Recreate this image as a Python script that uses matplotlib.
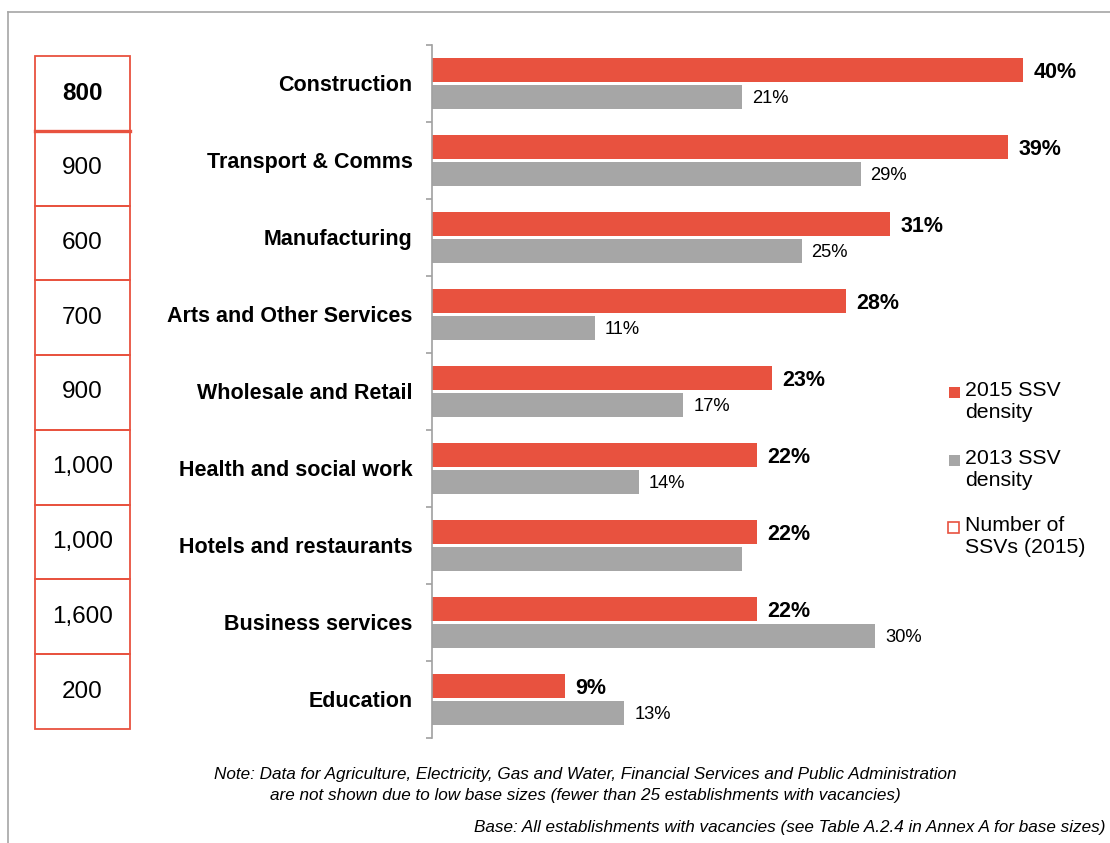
import matplotlib.pyplot as plt
from matplotlib.patches import Rectangle
from matplotlib.lines import Line2D

plt.rcParams['font.family'] = ['Liberation Sans', 'DejaVu Sans']

sectors = ['Construction', 'Transport & Comms', 'Manufacturing',
           'Arts and Other Services', 'Wholesale and Retail',
           'Health and social work', 'Hotels and restaurants',
           'Business services', 'Education']
density_2015 = [40, 39, 31, 28, 23, 22, 22, 22, 9]
density_2013 = [21, 29, 25, 11, 17, 14, 21, 30, 13]
show_2013_label = [True, True, True, True, True, True, False, True, True]
ssv_counts = ['800', '900', '600', '700', '900', '1,000', '1,000', '1,600', '200']

RED = '#E8523F'
GREY = '#A6A6A6'
W, H = 1110, 843


def box(x0, y0, x1, y1):
    # pixel box (top-left origin) -> figure fraction rect
    return [x0 / W, 1 - y1 / H, (x1 - x0) / W, (y1 - y0) / H]


fig = plt.figure(figsize=(W / 100, H / 100), dpi=100)

# outer frame (top and left edges only)
fig.add_artist(Line2D([8 / W, 1], [1 - 12 / H, 1 - 12 / H], color='#A6A6A6', lw=1.2))
fig.add_artist(Line2D([8 / W, 8 / W], [0, 1 - 12 / H], color='#A6A6A6', lw=1.2))

# main bar chart
ax = fig.add_axes(box(432, 44.7, 1110, 737.7))
n = len(sectors)
pos = list(range(n))
h = 0.31
off = 0.175
ax.barh([p - off for p in pos], density_2015, height=h, color=RED, zorder=2)
ax.barh([p + off for p in pos], density_2013, height=h, color=GREY, zorder=2)

ax.set_xlim(0, 678 / 14.78)
ax.set_ylim(n - 0.5, -0.5)
for s in ['top', 'right', 'bottom']:
    ax.spines[s].set_visible(False)
ax.spines['left'].set_color('#A0A0A0')
ax.spines['left'].set_linewidth(1.2)
ax.set_xticks([])

ax.set_yticks(pos)
ax.set_yticklabels(sectors, fontsize=15.5, fontweight='bold')
ax.tick_params(axis='y', which='major', length=0, pad=14)
ax.set_yticks([p - 0.5 for p in range(n + 1)], minor=True)
ax.tick_params(axis='y', which='minor', length=4.3, color='#A0A0A0', width=1.2)

lbl_gap = 10 / 14.78
for i in pos:
    ax.text(density_2015[i] + lbl_gap, i - off + 0.03, f'{density_2015[i]}%',
            fontsize=15.5, fontweight='bold', va='center', ha='left')
    if show_2013_label[i]:
        ax.text(density_2013[i] + lbl_gap, i + off + 0.02, f'{density_2013[i]}%',
                fontsize=13.2, va='center', ha='left')

# left-hand table: number of SSVs
tab = fig.add_axes(box(35, 56, 130, 729))
tab.set_xlim(0, 1)
tab.set_ylim(n, 0)
tab.axis('off')
for i, val in enumerate(ssv_counts):
    tab.add_patch(Rectangle((0, i), 1, 1, fill=False, edgecolor=RED, lw=1.3,
                            clip_on=False))
    tab.text(0.5, i + 0.5, val, ha='center', va='center', fontsize=17.5,
             fontweight='bold' if i == 0 else 'normal')
tab.plot([0, 1], [1, 1], color=RED, lw=2.4, clip_on=False)

# legend
leg_items = [(RED, True, '2015 SSV\ndensity', 385),
             (GREY, True, '2013 SSV\ndensity', 453),
             (RED, False, 'Number of\nSSVs (2015)', 520)]
for col, filled, txt, ytop in leg_items:
    if filled:
        fig.add_artist(Rectangle(((949) / W, 1 - (ytop + 12.5) / H), 11 / W, 10.5 / H,
                                 transform=fig.transFigure, facecolor=col,
                                 edgecolor='none'))
    else:
        fig.add_artist(Rectangle(((948) / W, 1 - (ytop + 13) / H), 11 / W, 11 / H,
                                 transform=fig.transFigure, facecolor='white',
                                 edgecolor=col, lw=1.2))
    fig.text(965 / W, 1 - (ytop - 4) / H, txt, fontsize=15.3, ha='left', va='top',
             linespacing=1.2)

# footnotes
fig.text(585 / W, 1 - 785 / H,
         'Note: Data for Agriculture, Electricity, Gas and Water, Financial Services and Public Administration\n'
         'are not shown due to low base sizes (fewer than 25 establishments with vacancies)',
         fontsize=12.3, style='italic', ha='center', va='center', linespacing=1.45)
fig.text(1105 / W, 1 - 832 / H,
         'Base: All establishments with vacancies (see Table A.2.4 in Annex A for base sizes)',
         fontsize=12.3, style='italic', ha='right', va='baseline')

fig.savefig('out.png', dpi=100)
